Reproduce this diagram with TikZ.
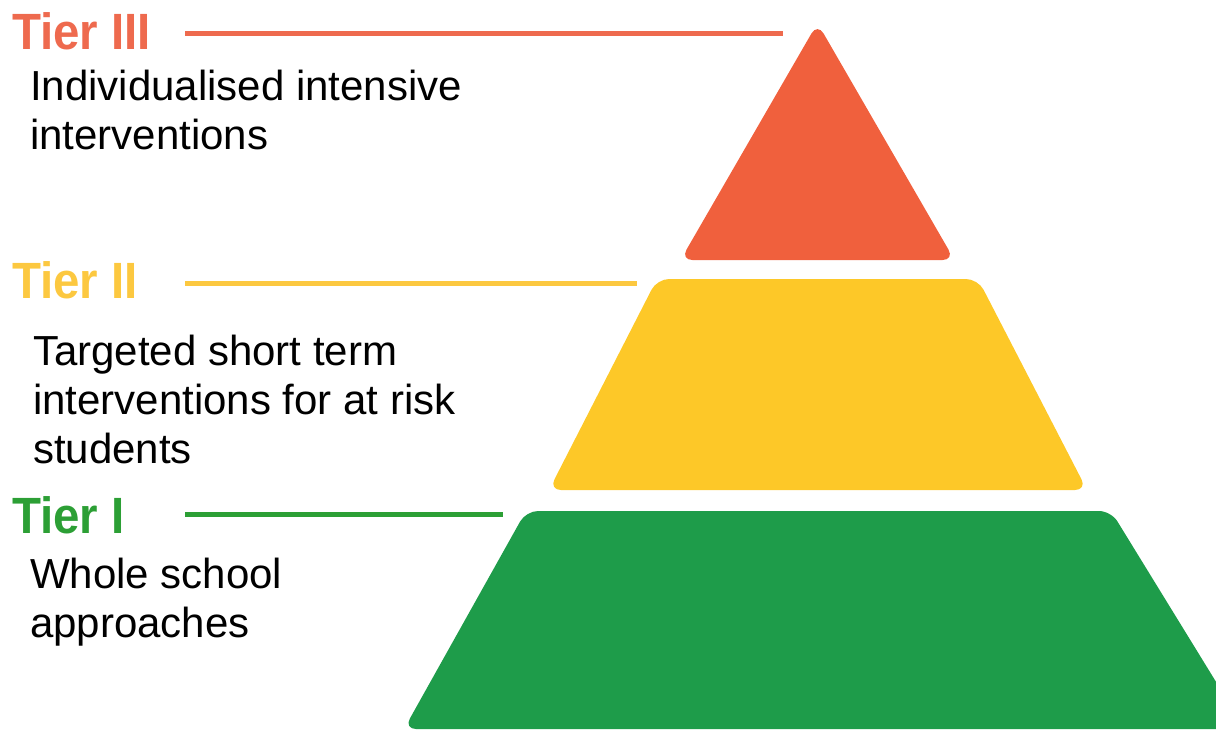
\documentclass[tikz,border=0pt]{standalone}
\usepackage{fontspec}
\setmainfont{Liberation Sans}
\newfontfamily\tierfont[FakeStretch=0.93]{Liberation Sans}
\definecolor{topred}{HTML}{F0603D}
\definecolor{midyellow}{HTML}{FDC828}
\definecolor{basegreen}{HTML}{1E9C4A}
\definecolor{redline}{HTML}{EE6A4E}
\definecolor{yellowline}{HTML}{FCC840}
\definecolor{greenline}{HTML}{2C9F35}
\begin{document}
\begin{tikzpicture}[x = 1pt, y = -1pt,
  tierlab/.style = {anchor = base west, inner sep = 0, font = \tierfont\bfseries\fontsize{51}{51}\selectfont},
  tierline/.style = {line width = 5pt},
  blurb/.style = {anchor = base west, inner sep = 0, align = left, font = \fontsize{42}{49}\selectfont},
  block/.style = {rounded corners = 12pt}]
\useasboundingbox (0,0) rectangle (1216,729);
% the three blocks of the pyramid
\fill[basegreen, block] (526,511) -- (1111,511) -- (1245,729) -- (404,729) -- cycle;
\fill[midyellow, block] (657,279) -- (978,279) -- (1087,490) -- (549,490) -- cycle;
\fill[topred, block] (817.5,23) -- (954.5,260) -- (680.5,260) -- cycle;
% tier names with their lines
\foreach \n/\txt/\col/\base/\y/\xend in {3/Tier III/redline/49/33/783, 2/Tier II/yellowline/298/283/637, 1/Tier I/greenline/533/514/503}
{
  \node[tierlab, text = \col] (tier\n) at (12,\base) {\txt};
  \coordinate (from\n) at (185,\y);
  \coordinate (to\n) at (\xend,\y);
  \draw[tierline, \col] (from\n) -- (to\n);
}
% descriptions, placed by the baseline of their last line
\node[blurb] (txt3) at (30,149) {Individualised intensive\\interventions};
\node[blurb] (txt2) at (33,463) {Targeted short term\\interventions for at risk\\students};
\node[blurb] (txt1) at (30,637) {Whole school\\approaches};
\end{tikzpicture}
\end{document}
